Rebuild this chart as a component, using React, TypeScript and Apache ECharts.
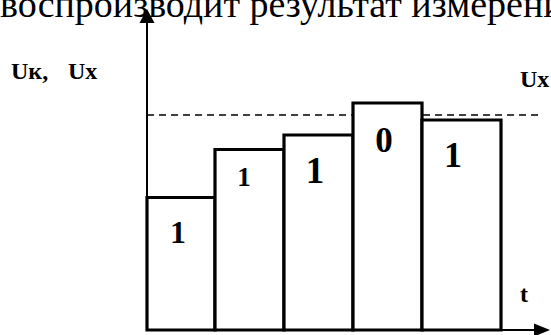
import React, { useEffect, useRef } from "react";
import * as echarts from "echarts";

// ---- data ----
const intervalStarts = [0, 6.8, 13.7, 20.6, 27.5];
const intervalEnds = [6.8, 13.7, 20.6, 27.5, 35.4];
const levels = [13.25, 18.05, 19.5, 22.7, 21.0];
const bits = ["1", "1", "1", "0", "1"];
const uxLevel = 21.5;
const xMax = 39.5;
const yMax = 31.4;
const headerText = "воспроизводит результат измерени";
const yAxisNameParts = ["Uк,", "Ux"];
const uxName = "Ux";
const tName = "t";

// ---- styles (not data) ----
const SERIF = "Liberation Serif";
const LABEL_STYLE = [
  { fontSize: 32, dx: -3, dy: 34 },
  { fontSize: 27, dx: -5.5, dy: 27.5 },
  { fontSize: 37, dx: -3.5, dy: 35.5 },
  { fontSize: 35, dx: -3.5, dy: 37 },
  { fontSize: 36, dx: -8.5, dy: 35 },
];

const txt = (text: string, x: number, y: number, size: number, bold: boolean, align = "left") => ({
  type: "text",
  style: {
    text,
    x,
    y,
    align,
    verticalAlign: "middle",
    fontFamily: SERIF,
    fontSize: size,
    fontWeight: bold ? "bold" : "normal",
    fill: "#000",
  },
});

export default function App() {
  const ref = useRef<HTMLDivElement>(null);
  useEffect(() => {
    document.body.style.margin = "0";
    const chart = echarts.init(ref.current!, null, { renderer: "svg" });
    const barData = intervalStarts.map((s, i) => [s, intervalEnds[i], levels[i], i]);
    chart.setOption({
      animation: false,
      backgroundColor: "#fff",
      grid: { left: 147, right: 9, top: 16, bottom: 5 },
      xAxis: {
        type: "value",
        min: 0,
        max: xMax,
        axisLine: {
          show: true,
          onZero: false,
          symbol: ["none", "triangle"],
          symbolSize: [13, 16],
          lineStyle: { color: "#000", width: 2 },
        },
        axisTick: { show: false },
        axisLabel: { show: false },
        splitLine: { show: false },
      },
      yAxis: {
        type: "value",
        min: 0,
        max: yMax,
        axisLine: {
          show: true,
          onZero: false,
          symbol: ["none", "triangle"],
          symbolSize: [15, 14],
          lineStyle: { color: "#000", width: 2 },
        },
        axisTick: { show: false },
        axisLabel: { show: false },
        splitLine: { show: false },
      },
      series: [
        {
          type: "line",
          z: 1,
          symbol: "none",
          data: [
            [0, uxLevel],
            [xMax, uxLevel],
          ],
          lineStyle: { color: "#000", width: 1.5, type: [7, 5] },
        },
        {
          type: "custom",
          z: 3,
          data: barData,
          encode: { x: [0, 1], y: 2 },
          renderItem: (params: any, api: any) => {
            const p0 = api.coord([api.value(0), api.value(2)]);
            const p1 = api.coord([api.value(1), 0]);
            const idx = api.value(3) as number;
            const st = LABEL_STYLE[idx];
            const cx = (p0[0] + p1[0]) / 2;
            return {
              type: "group",
              children: [
                {
                  type: "rect",
                  shape: { x: p0[0], y: p0[1], width: p1[0] - p0[0], height: p1[1] - p0[1] },
                  style: { fill: "#fff", stroke: "#000", lineWidth: 3.2 },
                },
                {
                  type: "text",
                  style: {
                    text: bits[idx],
                    x: cx + st.dx,
                    y: p0[1] + st.dy,
                    align: "center",
                    verticalAlign: "middle",
                    fontFamily: SERIF,
                    fontWeight: "bold",
                    fontSize: st.fontSize,
                    fill: "#000",
                  },
                },
              ],
            };
          },
        },
      ],
      graphic: [
        { ...txt(headerText, 0, 4.0, 38, false), z: 0 },
        txt(yAxisNameParts[0], 11, 79 - 8, 24, true),
        txt(yAxisNameParts[1], 68, 79 - 8, 24, true),
        txt(uxName, 520, 87 - 8, 24, true),
        txt(tName, 524, 302 - 8.1, 24, true, "center"),
      ],
    });
    return () => chart.dispose();
  }, []);
  return (
    <div
      ref={ref}
      style={{ position: "fixed", left: 0, top: 0, width: 551, height: 335, background: "#fff" }}
    />
  );
}
